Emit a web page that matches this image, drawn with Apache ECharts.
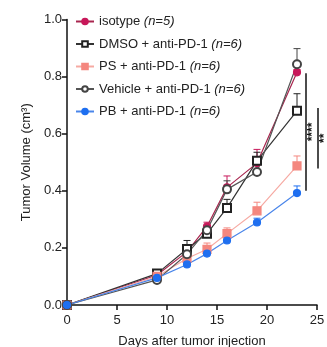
<!DOCTYPE html>
<html>
<head>
<meta charset="utf-8">
<script src="https://cdn.jsdelivr.net/npm/echarts@6/dist/echarts.min.js"></script>
<style>
  html, body { margin: 0; padding: 0; background: #fff; }
  #chart { width: 327px; height: 347px; }
</style>
</head>
<body>
<div id="chart"></div>
<script>
// days after injection
const days = [0, 9, 12, 14, 16, 19, 23];

// mean tumor volume (cm3)
const isotype = [0, 0.105, 0.186, 0.275, 0.412, 0.497, 0.815];
const dmso    = [0, 0.110, 0.196, 0.250, 0.340, 0.505, 0.680];
const ps      = [0, 0.100, 0.163, 0.195, 0.250, 0.330, 0.487];
const vehicle = [0, 0.088, 0.178, 0.262, 0.405, 0.466, 0.843];
const pb      = [0, 0.095, 0.142, 0.180, 0.226, 0.289, 0.392];

// upper error (SEM)
const isotypeErr = [0, 0.010, 0.020, 0.015, 0.040, 0.048, 0.010];
const dmsoErr    = [0, 0.012, 0.030, 0.020, 0.030, 0.030, 0.060];
const psErr      = [0, 0.010, 0.015, 0.022, 0.020, 0.030, 0.035];
const vehicleErr = [0, 0.010, 0.015, 0.015, 0.030, 0.050, 0.055];
const pbErr      = [0, 0.008, 0.010, 0.010, 0.010, 0.015, 0.025];

const seriesNames = [
  'isotype (n=5)',
  'DMSO + anti-PD-1 (n=6)',
  'PS + anti-PD-1 (n=6)',
  'Vehicle + anti-PD-1 (n=6)',
  'PB + anti-PD-1 (n=6)'
];

// significance brackets: [x, yTop, yBottom, label]
const sigBars = [
  [23.9, 0.812, 0.400, '****'],
  [25.1, 0.690, 0.478, '**']
];

const xTicks = { min: 0, max: 25, interval: 5 };
const yTicks = { min: 0, max: 1, interval: 0.2 };

const FONT = '"Liberation Sans", Arial, sans-serif';

const styles = [
  { symbol: 'circle',      size: 7, color: '#c8185a', line: '#a8264f' },
  { symbol: 'emptyRect',   size: 8, color: '#222222', line: '#333333' },
  { symbol: 'rect',        size: 8, color: '#f4877f', line: '#f6aaa3' },
  { symbol: 'emptyCircle', size: 8, color: '#444444', line: '#555555' },
  { symbol: 'circle',      size: 7, color: '#1f6ff0', line: '#4a86ea' }
];

const means = [isotype, dmso, ps, vehicle, pb];
const errs = [isotypeErr, dmsoErr, psErr, vehicleErr, pbErr];

function pairs(ys) {
  return days.map((d, i) => [d, ys[i]]);
}

const series = [];

means.forEach((ys, k) => {
  const st = styles[k];
  // error bars (upper only)
  series.push({
    type: 'custom',
    name: seriesNames[k] + ' err',
    z: 2,
    data: days.map((d, i) => [d, ys[i], ys[i] + errs[k][i]]),
    renderItem: (params, api) => {
      const lo = api.coord([api.value(0), api.value(1)]);
      const hi = api.coord([api.value(0), api.value(2)]);
      if (Math.abs(lo[1] - hi[1]) < 1) return null;
      const w = 3.5;
      return {
        type: 'group',
        children: [
          { type: 'line', shape: { x1: lo[0], y1: lo[1], x2: hi[0], y2: hi[1] },
            style: { stroke: st.color, lineWidth: 1 } },
          { type: 'line', shape: { x1: hi[0] - w, y1: hi[1], x2: hi[0] + w, y2: hi[1] },
            style: { stroke: st.color, lineWidth: 1 } }
        ]
      };
    },
    silent: true
  });
  series.push({
    type: 'line',
    name: seriesNames[k],
    data: pairs(ys),
    symbol: st.symbol,
    symbolSize: st.size,
    showAllSymbol: true,
    z: 3,
    lineStyle: { color: st.line, width: 1.2 },
    itemStyle: { color: st.color, borderColor: st.color, borderWidth: 1.2 }
  });
});

series.push({
  type: 'custom',
  name: 'sig',
  clip: false,
  z: 4,
  data: sigBars,
  renderItem: (params, api) => {
    const top = api.coord([api.value(0), api.value(1)]);
    const bot = api.coord([api.value(0), api.value(2)]);
    const label = sigBars[params.dataIndex][3];
    return {
      type: 'group',
      children: [
        { type: 'line', shape: { x1: top[0], y1: top[1], x2: bot[0], y2: bot[1] },
          style: { stroke: '#111', lineWidth: 1.5 } },
        { type: 'text', x: top[0] + 7, y: (top[1] + bot[1]) / 2, rotation: Math.PI / 2,
          style: { text: label, font: 'bold 12px ' + FONT, fill: '#111',
                   align: 'center', verticalAlign: 'middle' } }
      ]
    };
  },
  silent: true
});

const chart = echarts.init(document.getElementById('chart'), null, { renderer: 'canvas' });

chart.setOption({
  animation: false,
  backgroundColor: '#fff',
  textStyle: { fontFamily: FONT },
  grid: { left: 67, right: 10, top: 19.5, bottom: 42, outerBoundsMode: 'none', containLabel: false },
  legend: {
    data: seriesNames,
    orient: 'vertical',
    left: 70,
    top: 10,
    itemWidth: 18,
    itemHeight: 7,
    itemGap: 9.5,
    textStyle: {
      fontSize: 13,
      color: '#222',
      fontFamily: FONT,
      rich: { i: { fontStyle: 'italic', fontSize: 13, color: '#222', fontFamily: FONT } }
    },
    formatter: (name) => {
      const j = name.lastIndexOf(' (');
      return name.slice(0, j) + ' {i|' + name.slice(j + 1) + '}';
    }
  },
  xAxis: {
    type: 'value',
    min: xTicks.min,
    max: xTicks.max,
    interval: xTicks.interval,
    name: 'Days after tumor injection',
    nameLocation: 'middle',
    nameGap: 30,
    nameTextStyle: { fontSize: 13, color: '#222' },
    axisLine: { lineStyle: { color: '#111', width: 1.5 } },
    axisTick: { show: true, length: 5, lineStyle: { color: '#111', width: 1.5 } },
    axisLabel: { fontSize: 13, color: '#222', margin: 9 },
    splitLine: { show: false }
  },
  yAxis: {
    type: 'value',
    min: yTicks.min,
    max: yTicks.max,
    interval: yTicks.interval,
    name: 'Tumor Volume (cm³)',
    nameLocation: 'middle',
    nameGap: 32,
    nameTextStyle: { fontSize: 13, color: '#222' },
    axisLine: { show: true, lineStyle: { color: '#111', width: 1.5 } },
    axisTick: { show: true, length: 5, lineStyle: { color: '#111', width: 1.5 } },
    axisLabel: { fontSize: 13, color: '#222', margin: 5, formatter: (v) => v.toFixed(1) },
    splitLine: { show: false }
  },
  series
});
</script>
</body>
</html>
